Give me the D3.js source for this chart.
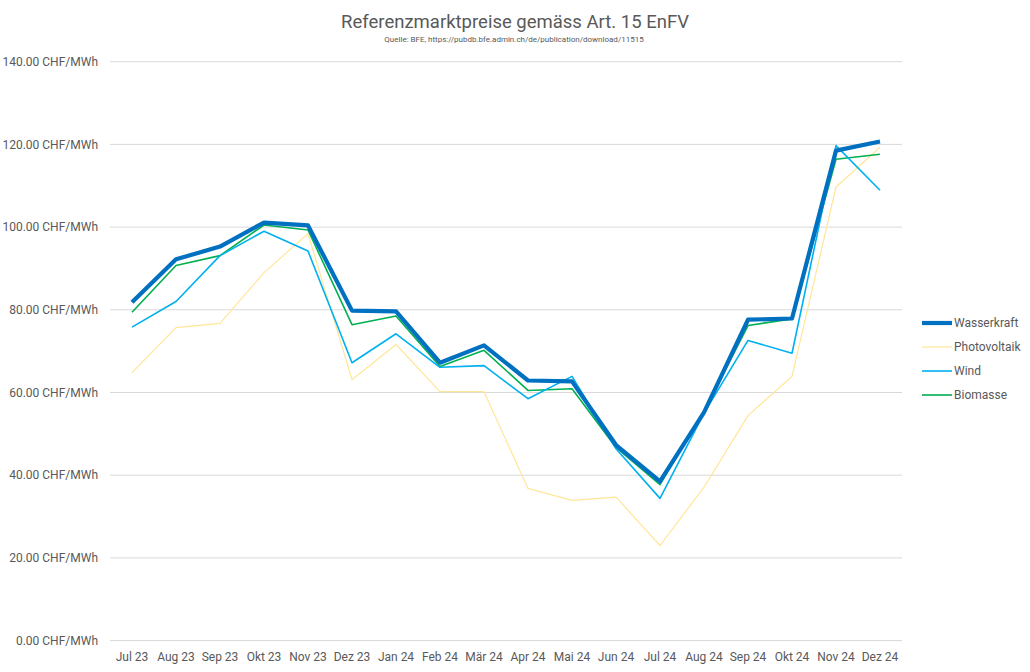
<!DOCTYPE html>
<html>
<head>
<meta charset="utf-8">
<script src="https://cdn.jsdelivr.net/npm/d3@7"></script>
<style>
  body { margin: 0; background: #fff; }
  text { font-family: Roboto, "Open Sans", sans-serif; fill: #595959; }
</style>
</head>
<body>
<script>
var months = ["Jul 23","Aug 23","Sep 23","Okt 23","Nov 23","Dez 23","Jan 24","Feb 24","Mär 24","Apr 24","Mai 24","Jun 24","Jul 24","Aug 24","Sep 24","Okt 24","Nov 24","Dez 24"];
var wasserkraft = [81.8,92.2,95.3,101.1,100.4,79.8,79.6,67.2,71.4,62.9,62.7,47.3,38.5,55.2,77.6,77.9,118.5,120.7];
var photovoltaik = [64.8,75.7,76.7,89.0,98.4,63.1,71.6,60.2,60.2,36.8,33.9,34.7,23.0,37.1,54.4,63.9,109.7,119.3];
var wind = [75.8,82.0,93.1,99.0,94.2,67.2,74.2,66.1,66.5,58.5,63.9,46.4,34.4,55.0,72.6,69.5,119.7,108.9];
var biomasse = [79.4,90.7,93.1,100.5,99.3,76.4,78.5,66.3,70.2,60.5,60.9,46.7,37.7,55.5,76.2,77.8,116.4,117.6];
var yTicks = [0,20,40,60,80,100,120,140];

var series = [
  {name: "Wasserkraft", values: wasserkraft, color: "#0070C0", width: 4.2},
  {name: "Photovoltaik", values: photovoltaik, color: "#FFE699", width: 1.2},
  {name: "Wind", values: wind, color: "#00B0F0", width: 1.6},
  {name: "Biomasse", values: biomasse, color: "#00B050", width: 1.6}
];

var w = 1030, h = 672;
var margin = {top: 61.7, left: 110, right: 128, bottom: 31.4};

var svg = d3.select("body").append("svg")
  .attr("width", w)
  .attr("height", h);

var x = d3.scalePoint()
  .domain(months)
  .range([margin.left, w - margin.right])
  .padding(0.5);

var y = d3.scaleLinear()
  .domain([0, 140])
  .range([h - margin.bottom, margin.top]);

// gridlines
svg.append("g").selectAll("line")
  .data(yTicks)
  .enter().append("line")
  .attr("x1", margin.left)
  .attr("x2", w - margin.right)
  .attr("y1", function(d){ return y(d); })
  .attr("y2", function(d){ return y(d); })
  .attr("stroke", "#D9D9D9")
  .attr("stroke-width", 1);

// y labels
svg.append("g").selectAll("text")
  .data(yTicks)
  .enter().append("text")
  .attr("x", 98)
  .attr("y", function(d){ return y(d); })
  .attr("dy", "0.35em")
  .attr("text-anchor", "end")
  .style("font-size", "12px")
  .text(function(d){ return d.toFixed(2) + " CHF/MWh"; });

// x labels
svg.append("g").selectAll("text")
  .data(months)
  .enter().append("text")
  .attr("x", function(d){ return x(d); })
  .attr("y", 661)
  .attr("text-anchor", "middle")
  .style("font-size", "12px")
  .text(function(d){ return d; });

var line = d3.line()
  .x(function(d, i){ return x(months[i]); })
  .y(function(d){ return y(d); });

// draw order: Photovoltaik, Biomasse, Wind, Wasserkraft on top
[1, 3, 2, 0].forEach(function(k){
  var s = series[k];
  svg.append("path")
    .datum(s.values)
    .attr("fill", "none")
    .attr("stroke", s.color)
    .attr("stroke-width", s.width)
    .attr("stroke-linejoin", "round")
    .attr("d", line);
});

// title
svg.append("text")
  .attr("x", 515)
  .attr("y", 28)
  .attr("text-anchor", "middle")
  .style("font-size", "18.5px")
  .text("Referenzmarktpreise gemäss Art. 15 EnFV");

svg.append("text")
  .attr("x", 514)
  .attr("y", 42)
  .attr("text-anchor", "middle")
  .style("font-size", "8px")
  .text("Quelle: BFE,  https://pubdb.bfe.admin.ch/de/publication/download/11515");

// legend
var legend = svg.append("g").selectAll("g")
  .data(series)
  .enter().append("g")
  .attr("transform", function(d, i){ return "translate(922," + (323 + i * 24) + ")"; });

legend.append("line")
  .attr("x1", 0).attr("x2", 30)
  .attr("stroke", function(d){ return d.color; })
  .attr("stroke-width", function(d){ return d.width; });

legend.append("text")
  .attr("x", 32)
  .attr("dy", "0.35em")
  .style("font-size", "12px")
  .text(function(d){ return d.name; });
</script>
</body>
</html>
